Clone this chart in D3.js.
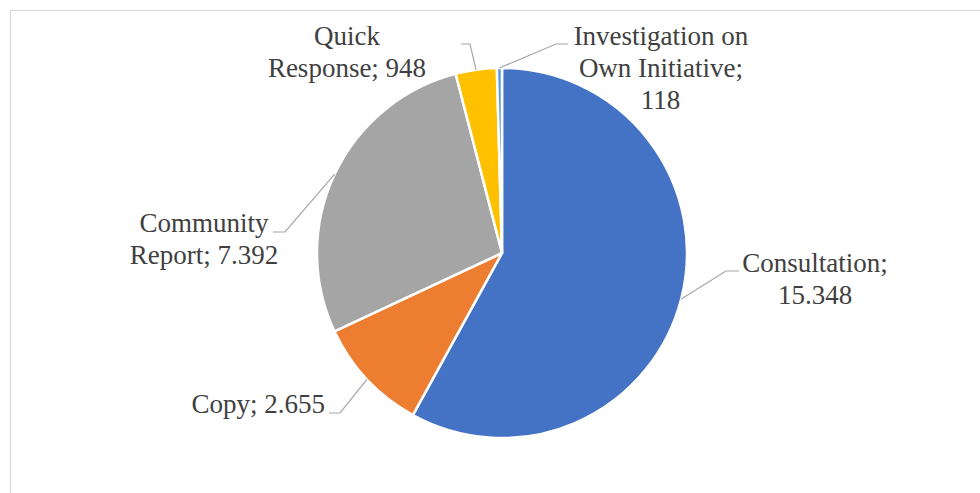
<!DOCTYPE html>
<html>
<head>
<meta charset="utf-8">
<script src="https://cdn.jsdelivr.net/npm/d3@7"></script>
</head>
<body style="margin:0">
<div id="chart"></div>
<script>
var categories = ["Consultation", "Copy", "Community Report", "Quick Response", "Investigation on Own Initiative"];
var amounts = [15348, 2655, 7392, 948, 118];
var valueLabels = ["15.348", "2.655", "7.392", "948", "118"];
var labelLines = [
    ["Consultation;", "15.348"],
    ["Copy; 2.655"],
    ["Community", "Report; 7.392"],
    ["Quick", "Response; 948"],
    ["Investigation on", "Own Initiative;", "118"]
];
var colors = ["#4472C4", "#ED7D31", "#A5A5A5", "#FFC000", "#5B9BD5"];

// label placement (layout only): text x, first baseline, anchor, leader elbow and end
var labelLayout = [
    {x: 815, y: 272, anchor: "middle", elbow: [726, 271], end: [739, 271]},
    {x: 325, y: 413, anchor: "end",    elbow: [340, 413], end: [329, 413]},
    {x: 204, y: 232, anchor: "middle", elbow: [285, 232], end: [273, 232]},
    {x: 347, y: 45,  anchor: "middle", elbow: [470, 44],  end: [461, 44]},
    {x: 661, y: 45,  anchor: "middle", elbow: [556, 44],  end: [568, 44]}
];

var data = categories.map(function(c, i) {
    return {name: c, amount: amounts[i], label: valueLabels[i], lines: labelLines[i], layout: labelLayout[i]};
});

var width = 980, height = 493,
    cx = 502, cy = 253, radius = 185,
    fontSize = 27, lineHeight = 32;

// Times-metric advance widths (per em) for measuring labels
var glyphW = {" ": .25, ";": .278, ".": .25, a: .444, c: .444, e: .444, g: .5, i: .278, k: .5,
    l: .278, m: .778, n: .5, o: .5, p: .5, r: .333, s: .389, t: .278, u: .5, v: .5, w: .722, y: .5,
    C: .667, I: .333, O: .722, Q: .722, R: .667};
function textWidth(s) {
    var w = 0;
    for (var k = 0; k < s.length; k++) w += (glyphW[s[k]] || .5);
    return w * fontSize;
}

var svg = d3.select("#chart").append("svg")
    .attr("width", width)
    .attr("height", height);

svg.append("rect")
    .attr("x", 10.5).attr("y", 10.5)
    .attr("width", width).attr("height", height)
    .attr("fill", "none")
    .attr("stroke", "#D9D9D9")
    .attr("stroke-width", 1.2);

var g = svg.append("g")
    .attr("transform", "translate(" + cx + "," + cy + ")");

var color = d3.scaleOrdinal().domain(categories).range(colors);

var pie = d3.pie()
    .sort(null)
    .value(function(d) { return d.amount; });

var path = d3.arc().outerRadius(radius).innerRadius(0);
var edge = d3.arc().outerRadius(radius).innerRadius(radius);

var arcs = pie(data);

g.selectAll("path.slice")
    .data(arcs)
    .enter().append("path")
        .attr("class", "slice")
        .attr("d", path)
        .attr("fill", function(d) { return color(d.data.name); })
        .attr("stroke", "#fff")
        .attr("stroke-width", 2.5)
        .attr("stroke-linejoin", "round");

// leader lines
svg.selectAll("polyline")
    .data(arcs)
    .enter().append("polyline")
        .attr("fill", "none")
        .attr("stroke", "#A6A6A6")
        .attr("stroke-width", 1.2)
        .attr("points", function(d) {
            var c = edge.centroid(d),
                L = d.data.layout;
            return [[cx + c[0], cy + c[1]], L.elbow, L.end].map(function(p) { return p.join(","); }).join(" ");
        });

// labels: one text per line, left-anchored, x shifted by measured width
var lines = [];
arcs.forEach(function(d) {
    d.data.lines.forEach(function(t, i) {
        lines.push({t: t, L: d.data.layout, i: i});
    });
});

svg.selectAll("text")
    .data(lines)
    .enter().append("text")
        .attr("x", function(d) {
            var w = textWidth(d.t);
            if (d.L.anchor === "middle") return d.L.x - w / 2;
            if (d.L.anchor === "end") return d.L.x - w;
            return d.L.x;
        })
        .attr("y", function(d) { return d.L.y + d.i * lineHeight; })
        .attr("font-size", fontSize + "px")
        .style("font-family", function() { return "'Liberation Serif'"; })
        .attr("fill", "#404040")
        .text(function(d) { return d.t; });
</script>
</body>
</html>
